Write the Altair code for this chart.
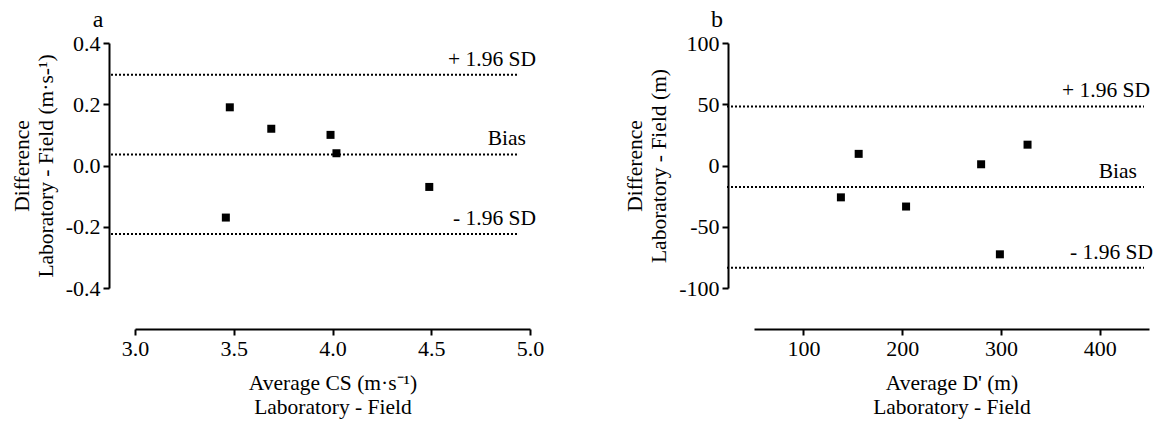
import altair as alt
import pandas as pd

# Panel a: Critical speed (CS)
a_avg = [3.46, 3.48, 3.69, 3.99, 4.02, 4.49]
a_diff = [-0.17, 0.19, 0.12, 0.10, 0.04, -0.07]
a_lines = [0.296, 0.036, -0.224]

# Panel b: D'
b_avg = [138, 156, 204, 280, 299, 327]
b_diff = [-26, 9.5, -33.5, 1, -72.5, 17]
b_lines = [48.2, -17.6, -83.4]

line_labels = ["+ 1.96 SD", "Bias", "- 1.96 SD"]

a_yticks = [-0.4, -0.2, 0.0, 0.2, 0.4]
a_xticks = [3.0, 3.5, 4.0, 4.5, 5.0]
b_yticks = [-100, -50, 0, 50, 100]
b_xticks = [100, 200, 300, 400]

FONT = "Liberation Serif"
W, H = 395, 245


def axis(values, title, offset, fmt, pad):
    return alt.Axis(
        values=values, title=title, offset=offset, grid=False,
        labelExpr=f"replace(format(datum.value, '{fmt}'), '\u2212', '-')",
        labelFont=FONT, labelFontSize=22, labelColor="black", labelPadding=3,
        labelFlush=False, labelOverlap=False,
        titleFont=FONT, titleFontSize=21.5, titleFontWeight="normal", titleColor="black",
        titleLineHeight=24, titlePadding=pad,
        domainColor="black", domainWidth=2, tickColor="black", tickWidth=2, tickSize=6,
    )


def panel(avg, diff, lines, xdom, ydom, xticks, yticks, xfmt, yfmt, xtitle, ytitle,
          letter, rule_start, rule_end, label_x):
    pts = pd.DataFrame({"avg": avg, "diff": diff})
    ln = pd.DataFrame({"v": lines, "label": line_labels, "lx": label_x})
    x = alt.X("avg:Q", scale=alt.Scale(domain=xdom, nice=False, zero=False),
              axis=axis(xticks, xtitle, 41, xfmt, 13))
    y = alt.Y("diff:Q", scale=alt.Scale(domain=ydom, nice=False, zero=False),
              axis=axis(yticks, ytitle, 26, yfmt, 8))
    points = alt.Chart(pts).mark_square(size=64, color="black", opacity=1).encode(x=x, y=y)
    rules = alt.Chart(ln).mark_rule(color="black", strokeDash=[2, 2], strokeWidth=2).encode(
        y=alt.Y("v:Q"), x=alt.value(rule_start), x2=alt.value(rule_end)
    )
    texts = alt.Chart(ln).mark_text(font=FONT, fontSize=21.5, align="right",
                                    baseline="alphabetic", dy=-9, color="black").encode(
        y=alt.Y("v:Q"), x=alt.X("lx:Q", scale=None), text="label:N"
    )
    lab = alt.Chart(pd.DataFrame({"t": [letter]})).mark_text(
        font=FONT, fontSize=24, align="center", baseline="alphabetic", color="black"
    ).encode(x=alt.value(-37), y=alt.value(-16), text="t:N")
    return alt.layer(rules, points, texts, lab).properties(width=W, height=H)


pa = panel(a_avg, a_diff, a_lines, [3, 5], [-0.4, 0.4], a_xticks, a_yticks, ".1f", ".1f",
           ["Average CS (m\u00b7s\u207b\u00b9)", "Laboratory - Field"],
           ["Difference", "Laboratory - Field (m\u00b7s-\u00b9)"], "a",
           -24, 382, [401, 391, 401])
pb = panel(b_avg, b_diff, b_lines, [50, 450], [-100, 100], b_xticks, b_yticks, "d", "d",
           ["Average D' (m)", "Laboratory - Field"],
           ["Difference", "Laboratory - Field (m)"], "b",
           -27, 390, [396, 383, 399])

chart = alt.hconcat(pa, pb, spacing=224, bounds="flush").resolve_scale(
    x="independent", y="independent"
).properties(
    padding={"left": 11, "top": 8, "right": 5, "bottom": 5}, background="white"
).configure_view(stroke=None)

chart.save("out.html", embed_options={"renderer": "svg", "actions": False})
